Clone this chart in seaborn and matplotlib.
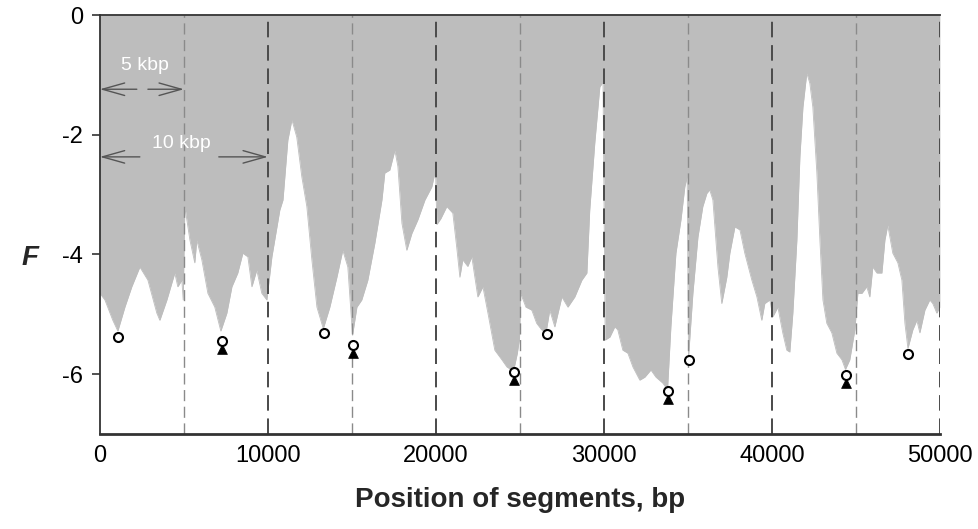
import numpy as np
import matplotlib
matplotlib.use("Agg")
import matplotlib.pyplot as plt
import seaborn as sns

# profile F along the sequence
pos_bp = [0, 300, 770, 1070, 1490, 1900, 2380, 2860, 3390, 3570, 3990, 4460, 4640, 4880, 4960,
          5060, 5360, 5650, 5770, 6070, 6430, 6840, 7200, 7560, 7860, 8210, 8510, 8810, 9050, 9340, 9640, 9940,
          10240, 10710, 10900, 11190, 11430, 11720, 12020, 12320, 12620, 12920, 13300, 13690, 14110, 14460, 14760, 15040,
          15300, 15590, 15950, 16370, 16790, 16960, 17260, 17560, 17740, 17980, 18270, 18570, 18930, 19350, 19760, 19980,
          20060, 20300, 20650, 21010, 21250, 21430, 21600, 21900, 22140, 22500, 22800, 23100, 23510, 23930, 24230, 24620, 24850, 24980,
          25050, 25360, 25710, 26000, 26300, 26560, 26780, 27080, 27500, 27860, 28270, 28690, 28990, 29160, 29460, 29760, 29950,
          30080, 30360, 30650, 30830, 31130, 31430, 31730, 32140, 32440, 32800, 33100, 33510, 33790, 33990, 34290, 34590, 34820, 34960,
          35040, 35300, 35600, 35890, 36130, 36300, 36490, 36790, 37020, 37320, 37500, 37800, 38100, 38390, 38810, 39110, 39400, 39580, 39880,
          40060, 40360, 40650, 40890, 41070, 41250, 41490, 41670, 41850, 42080, 42260, 42440, 42680, 42860, 43040, 43270, 43570, 43870, 44170, 44380, 44640, 44940,
          45120, 45360, 45650, 45830, 46010, 46250, 46550, 46730, 46900, 47200, 47500, 47740, 47920, 48100, 48390, 48630, 48810, 49110, 49400, 49580, 49820, 50000]
F_val = [-4.65, -4.76, -5.1, -5.28, -4.88, -4.54, -4.21, -4.43, -4.98, -5.1, -4.76, -4.31, -4.54, -4.43, -4.76,
         -3.2, -3.76, -4.14, -3.76, -4.09, -4.65, -4.88, -5.28, -4.98, -4.54, -4.31, -3.98, -4.04, -4.54, -4.26, -4.65, -4.76,
         -4.04, -3.26, -3.09, -2.09, -1.75, -2.04, -2.7, -3.2, -4.09, -4.88, -5.24, -4.88, -4.38, -3.93, -4.21, -5.35,
         -4.88, -4.76, -4.43, -3.81, -3.09, -2.64, -2.59, -2.26, -2.53, -3.48, -3.93, -3.65, -3.42, -3.09, -2.87, -2.59,
         -3.5, -3.4, -3.2, -3.31, -3.9, -4.38, -4.09, -4.2, -4.04, -4.71, -4.54, -4.98, -5.6, -5.76, -5.88, -5.95, -5.65, -5.4,
         -4.65, -4.88, -4.93, -5.15, -5.26, -5.3, -4.93, -5.21, -4.71, -4.88, -4.71, -4.43, -4.31, -3.26, -2.14, -1.2, -1.12,
         -5.43, -5.38, -5.21, -5.26, -5.6, -5.65, -5.88, -6.1, -6.05, -5.93, -6.05, -6.15, -6.26, -5.21, -3.98, -3.42, -2.87, -2.7,
         -5.72, -4.65, -3.71, -3.2, -2.98, -2.92, -3.09, -4.21, -4.82, -4.38, -3.98, -3.54, -3.59, -3.98, -4.43, -4.71, -5.1, -4.82, -4.76,
         -5.04, -4.88, -5.31, -5.6, -5.63, -4.98, -3.76, -2.37, -1.54, -0.97, -1.14, -1.54, -2.64, -3.76, -4.76, -5.15, -5.31, -5.65, -5.76, -5.92, -5.76, -5.26,
         -4.65, -4.65, -4.54, -4.71, -4.21, -4.31, -4.31, -3.76, -3.51, -3.98, -4.14, -4.43, -5.15, -5.57, -5.26, -5.1, -5.31, -4.93, -4.76, -4.82, -4.98, -4.88]

# marked minima
circle_x = [1070, 7260, 13330, 15060, 24640, 26600, 33810, 35060, 44400, 48100]
circle_F = [-5.38, -5.45, -5.31, -5.51, -5.96, -5.33, -6.28, -5.76, -6.01, -5.66]
tri_x = [7260, 15060, 24640, 33810, 44400]
tri_F = [-5.58, -5.65, -6.10, -6.42, -6.15]

x_ticks = [0, 10000, 20000, 30000, 40000, 50000]
y_ticks = [0, -2, -4, -6]
minor_lines = [5000, 15000, 25000, 35000, 45000]
major_lines = [10000, 20000, 30000, 40000, 50000]

sns.set_theme(style="white")
plt.rcParams['font.family'] = ['Liberation Sans', 'DejaVu Sans']

fill_col = "#bdbdbd"
fig = plt.figure(figsize=(9.79, 5.29), dpi=100)
ax = fig.add_axes([0.102, 0.1796, 0.858, 0.792])

ax.fill_between(pos_bp, F_val, 0, color=fill_col, linewidth=0, zorder=1)
sns.lineplot(x=pos_bp, y=F_val, color=fill_col, linewidth=0.6, ax=ax, zorder=1)

for xv in minor_lines:
    ax.axvline(xv, color="#8a8a8a", lw=1.0, dashes=(8, 4), zorder=2)
for xv in major_lines:
    ax.axvline(xv, color="#4a4a4a", lw=1.4, dashes=(8, 4), zorder=2)

sns.scatterplot(x=tri_x, y=tri_F, marker="^", color="black", s=50, edgecolor="black",
                linewidth=0.5, ax=ax, zorder=4)
sns.scatterplot(x=circle_x, y=circle_F, marker="o", facecolor="white", s=42, edgecolor="black",
                linewidth=1.5, ax=ax, zorder=5)

# scale arrows
arr = dict(arrowstyle="->,head_length=1.6,head_width=0.45", color="#555555", lw=1.0,
           shrinkA=0, shrinkB=0, mutation_scale=10)
ax.annotate("", xy=(0, -1.24), xytext=(2200, -1.24), arrowprops=arr, zorder=3)
ax.annotate("", xy=(5000, -1.24), xytext=(2860, -1.24), arrowprops=arr, zorder=3)
ax.annotate("", xy=(0, -2.37), xytext=(2380, -2.37), arrowprops=arr, zorder=3)
ax.annotate("", xy=(10000, -2.37), xytext=(7080, -2.37), arrowprops=arr, zorder=3)
ax.text(2680, -0.84, "5 kbp", color="white", fontsize=14, ha="center", va="center", zorder=3)
ax.text(4880, -2.15, "10 kbp", color="white", fontsize=14, ha="center", va="center", zorder=3)

ax.set_xlim(0, 50000)
ax.set_ylim(-7, 0)
ax.set_xticks(x_ticks)
ax.set_yticks(y_ticks)
ax.set_xticklabels([str(v) for v in x_ticks])
ax.set_yticklabels([str(v) for v in y_ticks])
ax.tick_params(axis="x", length=0, pad=8, labelsize=17, colors="black")
ax.tick_params(axis="y", left=True, length=6, width=1.2, pad=6, labelsize=17, colors="#333333",
               labelcolor="black", direction="out")

for side in ["left", "top", "bottom"]:
    ax.spines[side].set_visible(True)
    ax.spines[side].set_color("#333333")
ax.spines["left"].set_linewidth(1.3)
ax.spines["top"].set_linewidth(1.3)
ax.spines["bottom"].set_linewidth(2.0)
ax.spines["right"].set_visible(False)

ax.set_xlabel("Position of segments, bp", fontsize=20, fontweight="bold", labelpad=14)
ax.set_ylabel("")
fig.text(0.031, 1 - 258 / 529, "F", fontsize=20, fontweight="bold", fontstyle="italic",
         ha="center", va="center")

fig.savefig("out.png", dpi=100)
